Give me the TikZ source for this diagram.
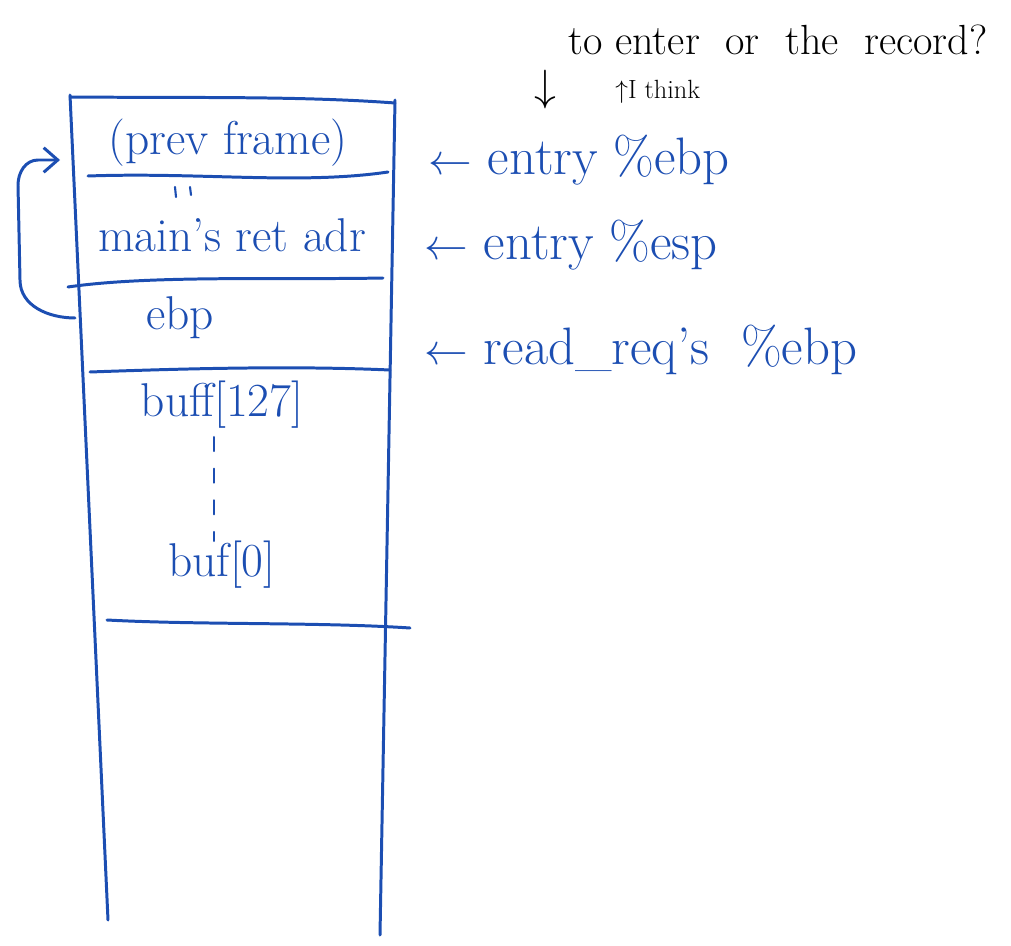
\documentclass[tikz,border=0pt]{standalone}
\usetikzlibrary{arrows.meta}
\definecolor{pen}{RGB}{28,78,178}
\begin{document}
\begin{tikzpicture}[x=0.02cm,y=-0.02cm,
  ink/.style={draw=pen,line width=1.7pt,line cap=round,line join=round},
  lbl/.style={text=pen,font=\fontsize{27}{32}\selectfont,inner sep=0pt},
  rlbl/.style={text=pen,font=\fontsize{30}{34}\selectfont,inner sep=0pt,anchor=west},
  note/.style={text=black,font=\fontsize{24}{28}\selectfont,inner sep=0pt},
  small/.style={text=black,font=\fontsize{15}{18}\selectfont,inner sep=0pt}]
\useasboundingbox (0,0) rectangle (1011,946);
% stack outline
\draw[ink] (70,95) -- (108,920);
\draw[ink] (395,100) -- (380,935);
\draw[ink] (70,97) .. controls (200,98) and (300,96) .. (395,103);
\draw[ink] (88,176) .. controls (200,172) and (300,185) .. (388,172);
\draw[ink] (68,287) .. controls (150,275) and (280,280) .. (383,278);
\draw[ink] (90,372) .. controls (200,368) and (300,366) .. (390,370);
\draw[ink] (107,620) .. controls (200,625) and (320,622) .. (410,628);
% cell texts
\node[lbl] (prev) at (228,143) {(prev frame)};
\node[lbl] (ret) at (232,235) {main's ret adr};
\node[lbl] (ebp) at (180,318) {ebp};
\node[lbl] (b127) at (222,405) {buff[127]};
\node[lbl] (b0) at (222,565) {buf[0]};
\draw[ink,line width=1.2pt,dash pattern=on 8pt off 10pt] (b127.south) ++(-8,8) coordinate (d1) -- (b0.north -| d1);
\draw[ink,line width=1.2pt] (175,187) -- (176,197);
\draw[ink,line width=1.2pt] (190,187) -- (191,195);
% loop arrow from saved ebp to previous frame
\coordinate (ls) at (75,318);
\coordinate (le) at (60,160);
\draw[ink,-{Straight Barb[length=8pt,width=14pt]}] (ls) to[out=180,in=270] (20,280) -- (18,185) to[out=90,in=180] (38,160) -- (le);
% right labels
\node[rlbl] (l1) at (428,160) {$\leftarrow$ entry \%ebp};
\node[rlbl] (l2) at (424,245) {$\leftarrow$ entry \%esp};
\node[rlbl] (l3) at (424,350) {$\leftarrow$ read\_req's \ \%ebp};
% top notes
\node[note,anchor=west] (n1) at (568,40) {to enter \ or \ the \ record?};
\node[note] (down) at (545,90) {$\downarrow$};
\node[small,anchor=west] (n2) at (615,92) {$\uparrow$I think};
\end{tikzpicture}
\end{document}
